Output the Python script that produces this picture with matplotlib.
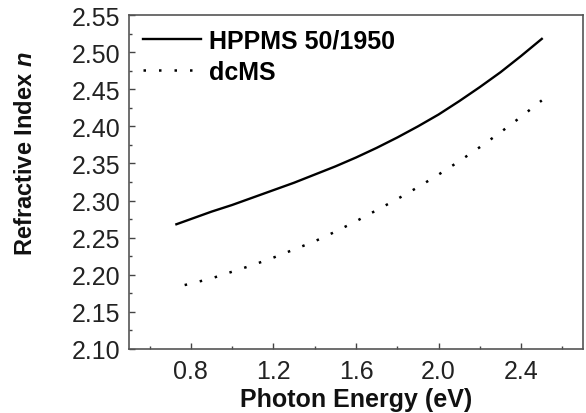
import numpy as np
import matplotlib.pyplot as plt
from matplotlib.ticker import MultipleLocator

plt.rcParams['font.family'] = ['Liberation Sans', 'DejaVu Sans']
plt.rcParams['mathtext.fontset'] = 'custom'
plt.rcParams['mathtext.it'] = 'Liberation Sans:italic:bold'

# HPPMS 50/1950 (solid)
e_hppms = [0.73, 0.8, 0.9, 1.0, 1.1, 1.2, 1.3, 1.4, 1.5, 1.6, 1.7, 1.8, 1.9, 2.0,
           2.1, 2.2, 2.3, 2.4, 2.5]
n_hppms = [2.268, 2.275, 2.285, 2.294, 2.304, 2.314, 2.324, 2.335, 2.346, 2.358,
           2.371, 2.385, 2.400, 2.416, 2.434, 2.453, 2.473, 2.495, 2.518]

# dcMS (dotted)
e_dcms = [0.77, 0.8, 0.9, 1.0, 1.1, 1.2, 1.3, 1.4, 1.5, 1.6, 1.7, 1.8, 1.9, 2.0,
          2.1, 2.2, 2.3, 2.4, 2.5]
n_dcms = [2.186, 2.188, 2.195, 2.204, 2.213, 2.223, 2.234, 2.245, 2.258, 2.272,
          2.287, 2.302, 2.318, 2.335, 2.353, 2.372, 2.392, 2.413, 2.435]

xticks = [0.8, 1.2, 1.6, 2.0, 2.4]
xticklabels = ['0.8', '1.2', '1.6', '2.0', '2.4']

fig = plt.figure(figsize=(5.86, 4.14), dpi=100)
ax = fig.add_axes([0.22, 0.155, 0.775, 0.806])

ax.plot(e_hppms, n_hppms, color='black', lw=1.7, label='HPPMS 50/1950')
ax.plot(e_dcms, n_dcms, color='black', lw=1.8, linestyle=(0, (1, 5.2)), label='dcMS')

ax.set_xlim(0.5, 2.7)
ax.set_ylim(2.10, 2.55)
ax.set_xticks(xticks)
ax.set_xticklabels(xticklabels)
ax.xaxis.set_minor_locator(MultipleLocator(0.2))
ax.yaxis.set_major_locator(MultipleLocator(0.05))
ax.yaxis.set_minor_locator(MultipleLocator(0.025))
ax.yaxis.set_major_formatter(plt.FormatStrFormatter('%.2f'))

ax.tick_params(which='both', direction='in', colors='#444444', labelcolor='#222222',
               labelsize=18, pad=7)
ax.tick_params(axis='y', pad=6)
ax.tick_params(which='major', length=4, width=1)
ax.tick_params(which='minor', length=2.5, width=1)
for s in ax.spines.values():
    s.set_color('#555555')
    s.set_linewidth(1.2)

fig.text(0.6075, 0.017, 'Photon Energy (eV)', fontsize=18, fontweight='bold',
         ha='center', va='baseline', color='#111111')
fig.text(0.044, 0.628, 'Refractive Index $n$', rotation=90, fontsize=17,
         fontweight='bold', ha='center', va='center', color='#111111')

leg = ax.legend(loc='upper left', bbox_to_anchor=(0.008, 0.99), frameon=False,
                prop={'weight': 'bold', 'size': 18}, handlelength=2.35,
                handletextpad=0.32, borderaxespad=0.0, labelspacing=0.3)

fig.savefig('out.png', dpi=100)
